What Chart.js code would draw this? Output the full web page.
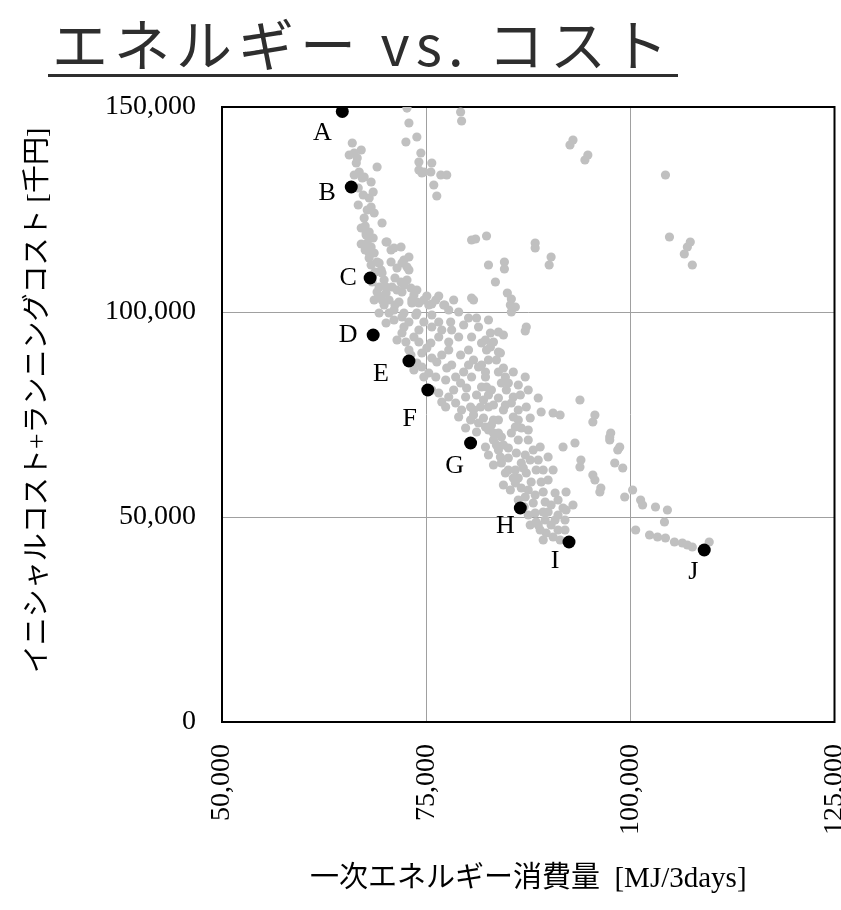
<!DOCTYPE html>
<html>
<head>
<meta charset="utf-8">
<script src="https://cdn.jsdelivr.net/npm/chart.js@4/dist/chart.umd.min.js"></script>
<style>
  html, body { margin: 0; padding: 0; background: #fff; overflow: hidden; }
  #wrap { position: relative; width: 841px; height: 910px; }
  #title {
    position: absolute; left: 48px; top: 10px; width: 630px;
    text-align: center; white-space: nowrap;
    font-family: "Noto Sans CJK JP", sans-serif;
    font-size: 56px; line-height: 64px; color: #2e2e2e;
    letter-spacing: 6px; border-bottom: 3px solid #2e2e2e;
  }
  canvas { position: absolute; left: 0; top: 0; }
</style>
</head>
<body>
<div id="wrap">
  <div id="title">エネルギー vs. コスト</div>
  <canvas id="chart" width="841" height="910"></canvas>
</div>
<script>
// labelled design points
const optLabels = ['A', 'B', 'C', 'D', 'E', 'F', 'G', 'H', 'I', 'J'];
const optEnergy = [64730, 65830, 68140, 68510, 72890, 75200, 80440, 86530, 92490, 109050];
const optCost   = [148900, 130490, 108290, 94390, 88050, 80980, 68050, 52200, 43900, 41950];

// all other candidates [energy MJ/3days, cost 千円]
const candidates = [
  [65950,141220],[66190,138780],[66440,136340],[66800,134150],[67410,132930],[68260,131710],
  [68990,135360],[68020,127800],[68260,125610],[68630,124150],[67410,122930],[69600,121710],
  [67650,118780],[67780,116830],[68020,114390],[70210,117070],[71060,115610],[71920,115850],
  [72890,113410],[72040,111950],[72890,110240],[69240,111950],[69600,109510],[70090,106100],
  [70820,106100],[72040,104880],[73130,105850],[73250,102930],[74110,102190],[69600,102930],
  [72650,149750],[72890,146100],[72520,141460],[73860,142680],[74350,138780],[74110,136580],
  [74110,134630],[74720,134150],[79220,148780],[79340,146580],[75690,136340],[75570,134150],
  [76790,133410],[77520,133410],[75930,130970],[76300,128290],[92980,141950],[92610,140730],
  [94800,138290],[94440,137070],[81050,117800],[82390,118540],[82630,111460],[84580,112190],
  [84580,110490],[83480,107320],[88350,116830],[88350,115610],[90300,113410],[90060,111460],
  [80800,102930],[84940,104630],[85430,103170],[85920,101220],[75690,101950],[77270,101710],
  [104300,133410],[104790,118290],[107340,117070],[106980,115850],[106610,114150],[107590,111460],
  [66190,133410],[67170,132680],[67780,124880],[67650,119270],[68260,115850],[68630,114390],
  [68020,113170],[68990,112190],[69480,110240],[69850,107800],[69240,106100],[70090,104630],
  [70090,117070],[70700,115120],[72280,112680],[72650,110970],[71670,102440],[73860,102440],
  [75320,101710],[74470,133900],[80560,117560],[80560,103410],[70450,99760],[72280,99760],
  [73860,99760],[69850,101710],[73250,102190],[77150,101710],[72040,98780],[73740,99270],
  [75690,99270],[78000,97560],[72280,96340],[74110,95610],[75690,96340],[76910,95610],
  [78120,95610],[80560,93900],[81410,96340],[82630,98050],[82870,94880],[83850,95120],
  [72520,92680],[74110,92680],[75570,92440],[77760,92680],[80190,90730],[81780,92440],
  [82870,91460],[83850,90240],[72890,90730],[74470,90000],[75690,88780],[76910,89510],
  [78120,87070],[80190,87070],[81410,86580],[82260,85370],[83850,85370],[74470,86580],
  [75320,85120],[76180,84150],[77390,83410],[78610,84150],[79220,82680],[80560,84150],
  [81780,81710],[82990,80980],[84210,82680],[76540,80240],[77760,79270],[78610,77800],
  [76910,78050],[79830,79270],[80440,76830],[81660,76830],[82630,76830],[78980,74390],
  [79830,71710],[81410,72930],[82260,71950],[83240,73660],[83850,70490],[82260,67070],
  [83850,66340],[84210,63170],[84700,60730],[85310,101710],[85430,100000],[87260,96340],
  [87130,95360],[84460,94390],[82260,93170],[83240,92680],[84090,90000],[81780,87070],
  [82260,84150],[84700,84150],[85060,82680],[87130,84150],[82390,81710],[84820,80980],
  [85670,79270],[86530,79760],[88720,79020],[93830,78540],[82020,78540],[83240,77320],
  [85430,77800],[87260,76830],[89080,75610],[90540,75370],[91400,74880],[95660,74880],
  [95410,73170],[85670,74390],[82990,72440],[85920,71950],[86650,71710],[97480,69510],
  [97600,70490],[98700,67070],[98460,66340],[83240,70490],[84210,69510],[85430,70490],
  [86280,68780],[83600,67560],[85060,66830],[88960,67070],[89930,64630],[91760,67070],
  [93220,68050],[84090,64630],[86040,65610],[87130,65120],[86650,63170],[93950,63900],
  [93830,62190],[98090,63170],[99070,61950],[85920,61460],[87260,60730],[95410,60240],
  [95660,59020],[96390,57070],[96270,56100],[85920,58290],[86650,57070],[87860,58540],
  [89080,58540],[87130,54880],[88350,55370],[89330,56100],[90790,55850],[92130,56100],
  [99310,54880],[100280,56590],[101260,54150],[101500,52930],[103080,52440],[104540,51710],
  [88110,53410],[89570,53660],[89930,51220],[91760,52200],[104180,48780],[88350,50980],
  [88470,48780],[89570,49270],[90790,49270],[92000,49270],[88960,46830],[89690,46100],
  [90540,45120],[92000,46830],[100650,46830],[102350,45610],[103330,45120],[104300,44880],
  [105400,43900],[106370,43660],[106980,43170],[107590,42680],[109660,43900],[97480,68780],
  [69240,99760],[70090,97320],[72040,94880],[73860,87560],[74720,84150],[75690,80980],
  [77390,76830],[87500,68780],[88110,66340],[88720,63900],[89330,61460],[89930,59020],
  [90540,61460],[91150,54150],[88720,48050],[87500,50490],[91150,46830],[90300,48050],
  [84460,76100],[86280,73660],[87500,71220],[85060,61460],[86280,54150],[87500,56590],
  [83850,73660],[80800,74880],[71060,98050],[71430,93170],[73130,89510],[73500,85850],
  [67050,120490],[67530,120980],[68020,119510],[68510,118050],[67050,116580],[67530,115120],
  [68260,111460],[68750,109760],[68380,107320],[68990,104880],[68630,102930],[69240,103900],
  [70450,102930],[71180,101710],[70700,112190],[71430,110730],[71180,108290],[71920,107320],
  [72650,107800],[73500,104150],[74720,102930],[76180,102930],[78370,102930],[66680,130240],
  [67290,128540],[66680,126100],[68510,129270],[67050,139510],[65580,138290],[66560,137560],
  [71060,100490],[72890,97560],[74720,97560],[76540,97560],[78980,100000],[80190,98540],
  [73500,93900],[76540,93900],[78980,93900],[75080,91220],[77760,90730],[79220,89510],
  [76300,87800],[77520,86340],[79590,85370],[80800,88290],[82630,88290],[78370,80980],
  [79950,81460],[81170,79760],[82630,79760],[83850,79020],[79340,76100],[80800,76100],
  [82020,74150],[80440,73660],[82630,71220],[81170,70730],[83240,68780],[84460,67560],
  [82630,65120],[83240,62680],[85060,64390],[85670,59510],[84460,57800],[85310,56590],
  [86280,59510],[86890,61950],[87740,63900],[88470,61460],[87000,52500],[91150,50490],
  [90300,52930],[89330,51220],[87740,48050],[89330,44390],[91400,44390],[92130,51710],
  [92980,52930],[71430,105360],[72280,106590],[73860,105360],[75080,103900],[76540,103900],
  [77760,100490],[79590,96830],[81170,98540],[82390,90730],[83600,88290],[84460,86340],
  [85670,85370],[86280,82190],[87500,80980],[84700,77320],[86280,76100],[87740,74150]
];

// text nudges for the letters next to each labelled point (px)
const labelOffset = {
  A: [-20, 22], B: [-24, 6], C: [-22, 0], D: [-25, 0], E: [-28, 13],
  F: [-18, 29], G: [-16, 23], H: [-15, 18], I: [-14, 19], J: [-11, 22]
};

const framePlugin = {
  id: 'frame',
  beforeDatasetsDraw(chart) {
    const a = chart.chartArea;
    const c = chart.ctx;
    c.save();
    c.strokeStyle = '#000';
    c.lineWidth = 2;
    c.strokeRect(a.left, a.top, a.right - a.left, a.bottom - a.top);
    c.restore();
  }
};

const letterPlugin = {
  id: 'letters',
  afterDatasetsDraw(chart) {
    const meta = chart.getDatasetMeta(0);
    const c = chart.ctx;
    c.save();
    c.font = '26px "Liberation Serif"';
    c.fillStyle = '#000';
    c.textAlign = 'center';
    c.textBaseline = 'middle';
    meta.data.forEach((pt, i) => {
      const off = labelOffset[optLabels[i]];
      c.fillText(optLabels[i], pt.x + off[0], pt.y + off[1]);
    });
    c.restore();
  }
};

const tickFont = { family: '"Liberation Serif", serif', size: 28 };
const titleFont = { family: '"Liberation Serif", "Noto Sans CJK JP", serif', size: 29 };

new Chart(document.getElementById('chart'), {
  type: 'scatter',
  data: {
    datasets: [
      {
        label: 'labelled',
        data: optLabels.map((l, i) => ({ x: optEnergy[i], y: optCost[i] })),
        backgroundColor: '#000',
        pointRadius: 6.5,
        borderWidth: 0
      },
      {
        label: 'candidates',
        data: candidates.map(p => ({ x: p[0], y: p[1] })),
        backgroundColor: '#c0c0c0',
        pointRadius: 4.6,
        borderWidth: 0
      }
    ]
  },
  options: {
    responsive: false,
    animation: false,
    locale: 'en-US',
    layout: { padding: { left: 0, top: 107, right: 3, bottom: 0 } },
    plugins: { legend: { display: false }, tooltip: { enabled: false } },
    scales: {
      x: {
        type: 'linear', min: 50000, max: 125000,
        ticks: { stepSize: 25000, maxRotation: 90, minRotation: 90, padding: 22, color: '#000', font: tickFont },
        grid: { color: '#a0a0a0', drawTicks: false },
        border: { display: false },
        title: { display: true, text: '一次エネルギー消費量  [MJ/3days]', color: '#000', font: titleFont, padding: { top: 0, bottom: 13 } },
        afterFit: s => { s.height = 188; s.paddingLeft = 0; s.paddingRight = 0; }
      },
      y: {
        type: 'linear', min: 0, max: 150000,
        ticks: { stepSize: 50000, padding: 26, color: '#000', font: tickFont },
        grid: { color: '#a0a0a0', drawTicks: false },
        border: { display: false },
        title: { display: true, text: '\u3000イニシャルコスト+ランニングコスト [千円]', color: '#000', font: { family: titleFont.family, size: 28 }, padding: { top: 22, bottom: 0 } },
        afterFit: s => { s.width = 222; s.paddingTop = 0; s.paddingBottom = 0; }
      }
    }
  },
  plugins: [framePlugin, letterPlugin]
});
</script>
</body>
</html>
